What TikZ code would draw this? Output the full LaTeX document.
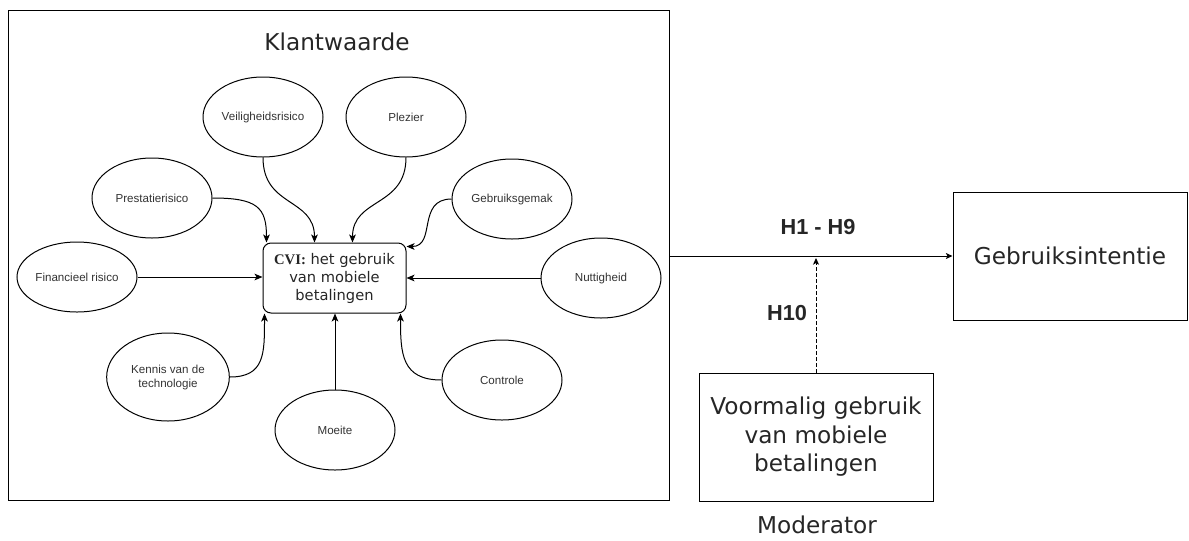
\documentclass[tikz,border=0pt]{standalone}
\usepackage{fontspec}
\setmainfont{DejaVu Sans}
\newfontfamily\arialfont{Liberation Sans}
\newfontfamily\timesfont{Liberation Serif}
\usetikzlibrary{arrows.meta,shapes.geometric}

\begin{document}
\begin{tikzpicture}[x=0.75pt,y=-0.75pt,
            factor/.style={draw, ellipse, line width=0.75pt, minimum width=90pt, minimum height=60pt, inner sep=0pt, align=center, text=black!80, font=\arialfont\fontsize{8.7}{10.5}\selectfont},
            link/.style={-{Stealth[length=6pt,width=5pt,inset=1.5pt]}, line width=0.75pt},
            bigtext/.style={align=center, text=black!85, font=\fontsize{17.4}{21.4}\selectfont},
            hyp/.style={text=black!85, font=\arialfont\bfseries\fontsize{16.3}{19}\selectfont}]
            \useasboundingbox (0,0) rectangle (1189,540);
            % blok klantwaarde
            \node[draw, line width=0.75pt, minimum width=495.75pt, minimum height=367.5pt] (klant) at (338.5,255) {};
            \node[bigtext] (titel) at (337,42) {Klantwaarde};
            \node[draw, rounded corners=6pt, line width=0.75pt, minimum width=107.25pt, minimum height=52.5pt, inner sep=0pt, align=center, text=black!85, font=\fontsize{11}{13.5}\selectfont] (cvi) at (334.5,278) {{\timesfont\bfseries CVI:} het gebruik\\van mobiele\\betalingen};
            % factoren
            \node[factor] (veilig) at (263,117) {Veiligheidsrisico};
            \node[factor] (plezier) at (406,117) {Plezier};
            \node[factor] (prestatie) at (152,198) {Prestatierisico};
            \node[factor] (gemak) at (512,199) {Gebruiksgemak};
            \node[factor, minimum height=52.5pt] (financieel) at (77,277) {Financieel risico};
            \node[factor] (nut) at (601,278) {Nuttigheid};
            \node[factor, minimum width=92pt, minimum height=66pt] (kennis) at (168,377) {Kennis van de\\technologie};
            \node[factor] (controle) at (502,380) {Controle};
            \node[factor] (moeite) at (335,430) {Moeite};
            \draw[link] (veilig.south) .. controls +(0,50) and +(0,-45) .. ([xshift=39pt]cvi.north west);
            \draw[link] (plezier.south) .. controls +(0,50) and +(0,-45) .. ([xshift=67.5pt]cvi.north west);
            \draw[link] (prestatie.east) .. controls +(45,0) and +(0,-35) .. ([xshift=3pt]cvi.north west);
            \draw[link] (gemak.west) .. controls +(-35,0) and +(30,0) .. ([yshift=-3pt]cvi.north east);
            \draw[link] (financieel.east) -- (financieel.east -| cvi.west);
            \draw[link] (nut.west) -- (nut.west -| cvi.east);
            \draw[link] (kennis.east) .. controls +(35,0) and +(0,40) .. ([xshift=1.5pt]cvi.south west);
            \draw[link] (controle.west) .. controls +(-40,0) and +(0,40) .. ([xshift=-4.5pt]cvi.south east);
            \draw[link] (moeite.north) -- (moeite.north |- cvi.south);
            % rechterdeel
            \node[draw, line width=0.75pt, minimum width=175.5pt, minimum height=96pt, bigtext] (gint) at (1070,256) {Gebruiksintentie};
            \node[draw, line width=0.75pt, minimum width=175.5pt, minimum height=96pt, bigtext] (mod) at (816,437) {Voormalig gebruik\\van mobiele\\betalingen};
            \node[bigtext, anchor=base] (modlabel) at (817,533) {Moderator};
            \draw[-{Stealth[length=5pt,width=4.5pt,inset=1.2pt]}, line width=0.75pt] (klant.east |- gint.west) -- (gint.west);
            \draw[-{Stealth[length=5pt,width=4.5pt,inset=1.2pt]}, line width=0.75pt, dash pattern=on 2.5pt off 2pt, shorten >=1.5pt] (mod.north) -- (mod.north |- gint.west);
            \node[hyp] (hbasis) at (818,227) {H1 - H9};
            \node[hyp] (hmod) at (787,313) {H10};
        \end{tikzpicture}
\end{document}
